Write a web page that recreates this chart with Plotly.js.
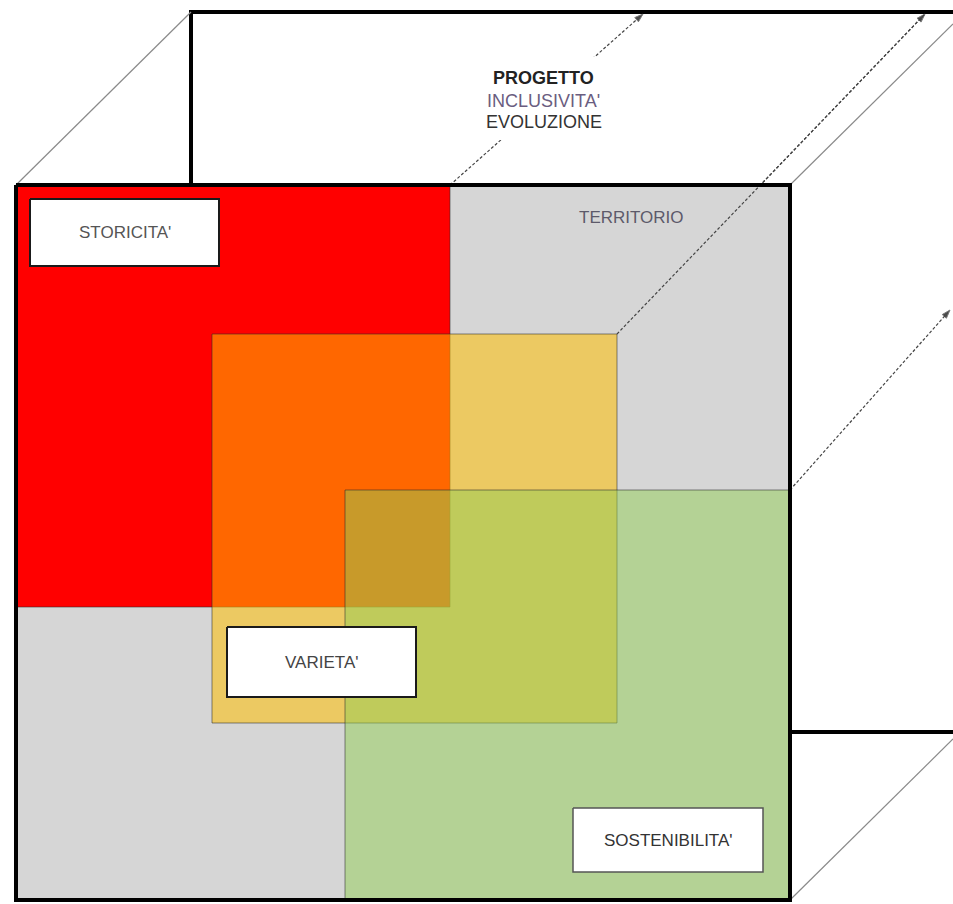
<!DOCTYPE html>
<html>
<head>
<meta charset="utf-8">
<script src="https://cdn.plot.ly/plotly-3.0.1.min.js"></script>
<style>html,body{margin:0;padding:0;background:#fff;}#chart{width:953px;height:904px;}</style>
</head>
<body>
<div id="chart"></div>
<script>
// ---- Diagram data (pixel-space coordinates) ----
const regionNames = ['FRONTE', 'STORICITA', 'VARIETA', 'SOSTENIBILITA'];
const regionX0 = [16, 16, 212, 345];
const regionX1 = [790, 450, 617, 790];
const regionY0 = [185, 185, 334, 490];
const regionY1 = [900, 607, 723, 900];

const labelText = ["STORICITA'", "VARIETA'", "SOSTENIBILITA'"];
const labelX0 = [30, 227, 573];
const labelX1 = [219, 416, 763];
const labelY0 = [199, 627, 808];
const labelY1 = [266, 697, 872];

const headerText = ["PROGETTO", "INCLUSIVITA'", "EVOLUZIONE"];
const headerX = [543, 543, 544];
const headerY = [78, 101, 122];

const territorioText = "TERRITORIO";
const territorioX = 631;
const territorioY = 217;

// back face outline (thick)
const backTopX = [191, 191, 953];
const backTopY = [185, 12, 12];
const backBottomX = [790, 953];
const backBottomY = [732, 732];

// cube edges (thin)
const edgeX0 = [16, 790, 790];
const edgeY0 = [185, 185, 900];
const edgeX1 = [191, 953, 953];
const edgeY1 = [12, 24, 739];

// dashed arrows
const arrowX0 = [450, 617, 790];
const arrowY0 = [185, 334, 490];
const arrowX1 = [643, 925, 950];
const arrowY1 = [14, 14, 310];

// white area behind header text
const headerBgX = [480, 612];
const headerBgY = [57, 140];

// ---- Styles ----
const fills = ['#d6d6d6', '#ff0000', 'rgba(255,190,0,0.54)', 'rgba(146,206,84,0.5)'];
const labelColors = ['#555555', '#444444', '#333333'];
const FONT = 'Liberation Sans, Arial, sans-serif';

function rectPath(x0, x1, y0, y1) {
  return { x: [x0, x1, x1, x0, x0], y: [y0, y0, y1, y1, y0] };
}

const traces = [];

// back face thick lines
traces.push({ x: backTopX, y: backTopY, mode: 'lines', line: { color: '#000', width: 4 }, hoverinfo: 'skip' });
traces.push({ x: backBottomX, y: backBottomY, mode: 'lines', line: { color: '#000', width: 4 }, hoverinfo: 'skip' });

// thin cube edges
for (let i = 0; i < edgeX0.length; i++) {
  traces.push({ x: [edgeX0[i], edgeX1[i]], y: [edgeY0[i], edgeY1[i]], mode: 'lines',
    line: { color: '#8a8a8a', width: 1.2 }, hoverinfo: 'skip' });
}

// dashed arrows
for (let i = 0; i < arrowX0.length; i++) {
  traces.push({ x: [arrowX0[i], arrowX1[i]], y: [arrowY0[i], arrowY1[i]], mode: 'lines+markers',
    line: { color: '#444', width: 1.2, dash: '3px,2px' },
    marker: { symbol: 'arrow', angleref: 'previous', size: [0, 9], color: '#000' },
    hoverinfo: 'skip' });
}

// white background behind header text
const hb = rectPath(headerBgX[0], headerBgX[1], headerBgY[0], headerBgY[1]);
traces.push({ x: hb.x, y: hb.y, mode: 'lines', fill: 'toself', fillcolor: '#ffffff', line: { width: 0, color: 'rgba(0,0,0,0)' }, hoverinfo: 'skip' });

// regions
for (let i = 0; i < regionNames.length; i++) {
  const p = rectPath(regionX0[i], regionX1[i], regionY0[i], regionY1[i]);
  traces.push({ x: p.x, y: p.y, mode: 'lines', fill: 'toself', fillcolor: fills[i],
    line: { color: i === 0 ? 'rgba(0,0,0,0)' : 'rgba(40,40,40,0.55)', width: i === 0 ? 0 : 1 },
    name: regionNames[i], hoverinfo: 'skip' });
}

// dashed arrow over front face (the middle one) redrawn on top
traces.push({ x: [arrowX0[1], arrowX1[1]], y: [arrowY0[1], arrowY1[1]], mode: 'lines',
  line: { color: '#444', width: 1.2, dash: '3px,2px' }, hoverinfo: 'skip' });

// front face thick border
const fb = rectPath(regionX0[0], regionX1[0], regionY0[0], regionY1[0]);
traces.push({ x: fb.x, y: fb.y, mode: 'lines', line: { color: '#000', width: 4 }, hoverinfo: 'skip' });

// label boxes
for (let i = 0; i < labelText.length; i++) {
  const p = rectPath(labelX0[i], labelX1[i], labelY0[i], labelY1[i]);
  traces.push({ x: p.x, y: p.y, mode: 'lines', fill: 'toself', fillcolor: '#ffffff',
    line: { color: i === 2 ? '#555' : '#1a1a1a', width: i === 2 ? 1.5 : 2 }, hoverinfo: 'skip' });
}

const annotations = [];
for (let i = 0; i < labelText.length; i++) {
  annotations.push({ x: (labelX0[i] + labelX1[i]) / 2, y: (labelY0[i] + labelY1[i]) / 2,
    text: labelText[i], showarrow: false, xref: 'x', yref: 'y',
    font: { family: FONT, size: 17, color: labelColors[i] } });
}
annotations.push({ x: territorioX, y: territorioY, text: territorioText, showarrow: false,
  font: { family: FONT, size: 17, color: '#5d5a6a' } });
const headerColors = ['#222222', '#6a5d80', '#333333'];
for (let i = 0; i < headerText.length; i++) {
  annotations.push({ x: headerX[i], y: headerY[i], text: i === 0 ? '<b>' + headerText[i] + '</b>' : headerText[i],
    showarrow: false, font: { family: FONT, size: 18, color: headerColors[i] } });
}

const layout = {
  width: 953, height: 904,
  margin: { l: 0, r: 0, t: 0, b: 0 },
  paper_bgcolor: '#ffffff', plot_bgcolor: '#ffffff',
  showlegend: false,
  xaxis: { range: [0, 953], visible: false, fixedrange: true },
  yaxis: { range: [904, 0], visible: false, fixedrange: true },
  annotations: annotations
};

Plotly.newPlot('chart', traces.map(t => Object.assign({ type: 'scatter' }, t)), layout, { displayModeBar: false, staticPlot: true });
</script>
</body>
</html>
